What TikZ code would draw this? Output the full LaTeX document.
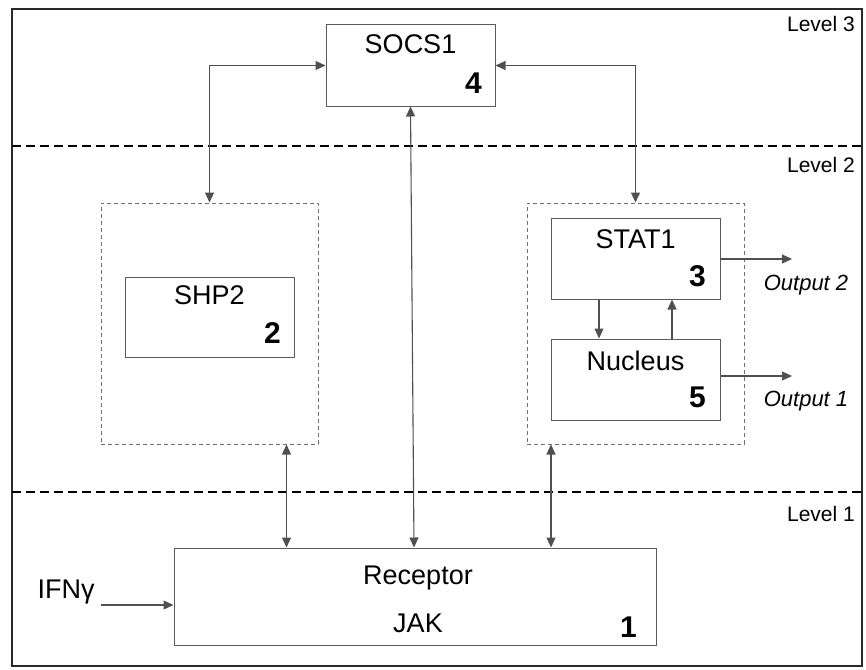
\documentclass[tikz,border=0pt]{standalone}
\usepackage{fontspec}
\setmainfont{Liberation Sans}
\usetikzlibrary{arrows.meta,calc}
\definecolor{boxgray}{HTML}{5A5A5A}
\definecolor{arrgray}{HTML}{505050}
\definecolor{dashgray}{HTML}{707070}
\definecolor{framegray}{HTML}{2A2A2A}
\begin{document}
\begin{tikzpicture}[x=1pt,y=-1pt,
  box/.style={draw=boxgray, line width=1pt, minimum width=169pt, minimum height=81pt, inner sep=0pt},
  dbox/.style={draw=dashgray, line width=1pt, dash pattern=on 4pt off 3pt, minimum width=217pt, minimum height=241pt, inner sep=0pt},
  tip/.tip={Triangle[length=10pt,width=9pt]},
  conn/.style={draw=arrgray, line width=1.1pt, -tip},
  dconn/.style={draw=arrgray, line width=1.1pt, tip-tip},
  title/.style={font=\fontsize{27}{31}\selectfont, inner sep=0pt},
  num/.style={font=\fontsize{30}{34}\selectfont\bfseries, inner sep=0pt},
  lvl/.style={font=\fontsize{21}{25}\selectfont, anchor=east, inner sep=0pt},
  outlbl/.style={font=\fontsize{22}{26}\selectfont\itshape, inner sep=0pt},
  levelline/.style={draw=black, line width=2pt, dash pattern=on 9pt off 5pt}
]
\useasboundingbox (0,0) rectangle (866,669);
% frame and level lines
\draw[draw=framegray, line width=2pt] (12,9) rectangle (862,666);
\coordinate (l3a) at (12,146);
\coordinate (l3b) at (862,146);
\coordinate (l2a) at (12,492);
\coordinate (l2b) at (862,492);
\draw[levelline] (l3a) -- (l3b);
\draw[levelline] (l2a) -- (l2b);
\node[lvl] (lv3) at (855,24) {Level 3};
\node[lvl] (lv2) at (855,165) {Level 2};
\node[lvl] (lv1) at (855,514) {Level 1};

% boxes
\node[box] (socs) at (410.5,65.5) {};
\node[title] (socsT) at ([yshift=-20pt]socs.north) {SOCS1};
\node[num] (socsN) at ([xshift=-22pt,yshift=23pt]socs.south east) {4};

\node[dbox] (shpD) at (209.5,323.5) {};
\node[box, minimum height=80pt] (shp) at (209.5,317) {};
\node[title] (shpT) at ([yshift=-19pt]shp.north) {SHP2};
\node[num] (shpN) at ([xshift=-22pt,yshift=24pt]shp.south east) {2};

\node[dbox] (statD) at (635.5,323.5) {};
\node[box] (stat) at (635.5,258.5) {};
\node[title] (statT) at ([yshift=-22pt]stat.north) {STAT1};
\node[num] (statN) at ([xshift=-23pt,yshift=23pt]stat.south east) {3};
\node[box] (nuc) at (635.5,379.5) {};
\node[title] (nucT) at ([yshift=-22pt]nuc.north) {Nucleus};
\node[num] (nucN) at ([xshift=-23pt,yshift=23pt]nuc.south east) {5};

\node[box, minimum width=482pt, minimum height=97pt] (rec) at (415,596.5) {};
\node[title] (recT) at (418,578) {Receptor};
\node[title] (recJ) at (418,623) {JAK};
\node[num] (recN) at ([xshift=-28pt,yshift=18pt]rec.south east) {1};

% input
\node[title] (ifn) at (66,592) {IFNγ};
\coordinate (ifnA) at (101,605);
\draw[conn] (ifnA) -- (rec.west |- ifnA);

% outputs
\coordinate (o2) at (792,259);
\coordinate (o1) at (792,376);
\draw[conn] (stat.east |- o2) -- (o2);
\draw[conn] (nuc.east |- o1) -- (o1);
\node[outlbl] (o2T) at (806,285) {Output 2};
\node[outlbl] (o1T) at (806,401) {Output 1};

% connectors with SOCS1
\draw[dconn] (shpD.north) |- (socs.west);
\draw[dconn] (statD.north) |- (socs.east);
\draw[dconn] (socs.south) -- ([xshift=-1pt]rec.north);

% connectors with receptor
\draw[dconn] ([xshift=77pt]shpD.south) -- ([xshift=77pt]shpD.south |- rec.north);
\draw[dconn] ([xshift=-84.5pt]statD.south) -- ([xshift=-84.5pt]statD.south |- rec.north);

% STAT1 <-> Nucleus
\draw[conn] ([xshift=-36.5pt]stat.south) -- ([xshift=-36.5pt]nuc.north);
\draw[conn] ([xshift=36.5pt]nuc.north) -- ([xshift=36.5pt]stat.south);
\end{tikzpicture}
\end{document}
